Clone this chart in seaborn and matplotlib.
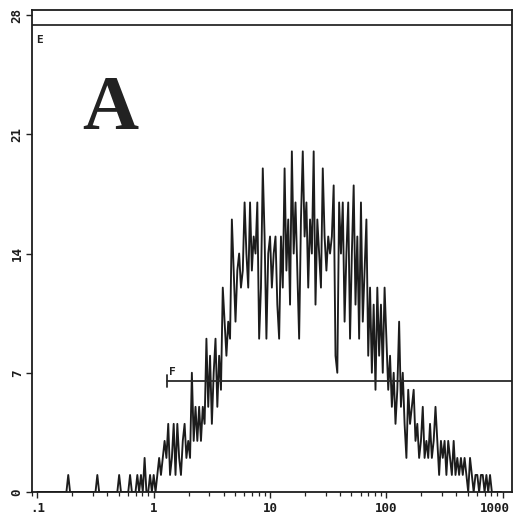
import numpy as np
import pandas as pd
import matplotlib
matplotlib.use("Agg")
import matplotlib.pyplot as plt
import matplotlib.transforms as mtransforms
import seaborn as sns

# channel data: 256 log channels, 64 per decade, starting at 0.1
n_channels = 256
channels_per_decade = 64

# isolated single events in the low channels
sparse_counts = {17: 1, 33: 1, 45: 1, 51: 1, 55: 1, 57: 1, 59: 2}

# dense part of the histogram, starting at channel 62
dense_start = 62
dense_counts = [
    1, 0, 1, 0, 1,
    2, 1, 2, 3, 2,
    4,
    1, 2, 4, 1,
    4, 2,
    1, 3,
    4, 2,
    3, 2, 7, 3,
    5, 3,
    5, 3, 5,
    4,
    9, 5,
    8, 4, 7,
    9, 5, 8,
    6,
    12, 10,
    8, 10, 9,
    16, 13,
    10, 13,
    14, 12, 13,
    17, 14,
    12, 17, 13, 15,
    14, 17, 9,
    12,
    19, 15,
    9, 14,
    15, 12, 14,
    15, 11,
    9, 15, 12,
    19, 13,
    16, 11,
    20,
    14, 17, 13,
    9, 16,
    20, 15, 17,
    12, 16, 14,
    20, 11,
    16, 14,
    12, 19,
    15, 13,
    15, 14, 15,
    18,
    8, 7, 17,
    14,
    17, 10, 14,
    17, 9,
    14,
    18,
    11, 15,
    9, 17,
    10, 13,
    16,
    8, 12, 7,
    11, 6,
    12, 8, 11,
    7, 12,
    9, 6, 8, 5,
    7, 4, 6,
    10,
    5, 7, 4,
    2,
    6, 4, 5,
    6, 3,
    4, 2,
    3,
    5, 2,
    3, 2, 4, 2,
    3, 5,
    3, 1, 3,
    2, 3, 1, 3,
    2, 1,
    3, 1, 2, 1,
    2, 1, 2, 1,
    0, 2,
    1, 0, 1, 1, 0, 1, 1, 0,
    1, 0, 1,
]

# gates
gate_e_y = 27.4
gate_f_y = 6.5
gate_f_start = 1.29

x_ticks = [0.1, 1, 10, 100, 1000]
x_tick_labels = [".1", "1", "10", "100", "1000"]
y_ticks = [0, 7, 14, 21, 28]
y_tick_labels = ["0", "7", "14", "21", "28"]

counts = np.zeros(n_channels)
for ch, c in sparse_counts.items():
    counts[ch] = c
counts[dense_start:dense_start + len(dense_counts)] = dense_counts
channel = np.arange(n_channels)
df = pd.DataFrame({"intensity": 0.1 * 10 ** (channel / channels_per_decade),
                   "count": counts})

sns.set_style("white")
plt.rcParams["font.family"] = ["DejaVu Sans Mono", "DejaVu Sans"]

fig = plt.figure(figsize=(5.13, 5.15), dpi=100)
ax = fig.add_axes([0.0624, 0.0447, 0.9356, 0.9359])

sns.lineplot(data=df, x="intensity", y="count", estimator=None,
             color="#1c1c1c", linewidth=1.35, ax=ax)

ax.set_xscale("log")
xmin, xmax = 0.09, 1200
ax.set_xlim(xmin, xmax)
ax.set_ylim(0, 28.3)

# gate markers
ax.plot([xmin, xmax], [gate_e_y, gate_e_y], color="#2a2a2a", lw=1.3)
ax.plot([gate_f_start, xmax], [gate_f_y, gate_f_y], color="#2a2a2a", lw=1.3)
ax.plot([gate_f_start, gate_f_start], [gate_f_y - 0.35, gate_f_y + 0.35],
        color="#2a2a2a", lw=1.3)
ax.text(0.097, gate_e_y - 0.55, "E", fontsize=8, fontweight="bold",
        ha="left", va="top", color="#222222")
ax.text(gate_f_start * 1.05, gate_f_y + 0.25, "F", fontsize=8,
        fontweight="bold", ha="left", va="bottom", color="#222222")

ax.text(0.42, 22.4, "A", fontsize=56, fontweight="bold",
        family="Liberation Serif", ha="center", va="center", color="#222222")

ax.set_xticks(x_ticks, labels=x_tick_labels)
ax.set_yticks(y_ticks, labels=y_tick_labels)
ax.tick_params(axis="y", labelrotation=90, pad=2)
for lab in ax.get_yticklabels():
    lab.set_va("center")
ax.tick_params(axis="both", which="major", direction="out", length=4,
               width=1.0, labelsize=9, color="#222222")
ax.tick_params(axis="x", which="minor", direction="out", length=3,
               width=0.9, bottom=True, color="#222222")
ax.tick_params(axis="both", which="both", bottom=True, left=True)
for lab in ax.get_xticklabels() + ax.get_yticklabels():
    lab.set_fontweight("bold")
    lab.set_color("#1c1c1c")

# keep the last x label inside the figure, as in the original print
last = ax.get_xticklabels()[-1]
last.set_transform(last.get_transform() +
                   mtransforms.ScaledTranslation(-0.08, 0, fig.dpi_scale_trans))

for side in ["left", "right", "top", "bottom"]:
    ax.spines[side].set_visible(True)
    ax.spines[side].set_color("#1c1c1c")
    ax.spines[side].set_linewidth(1.3)

ax.set_xlabel("")
ax.set_ylabel("")
ax.grid(False)

fig.savefig("out.png", dpi=100)
